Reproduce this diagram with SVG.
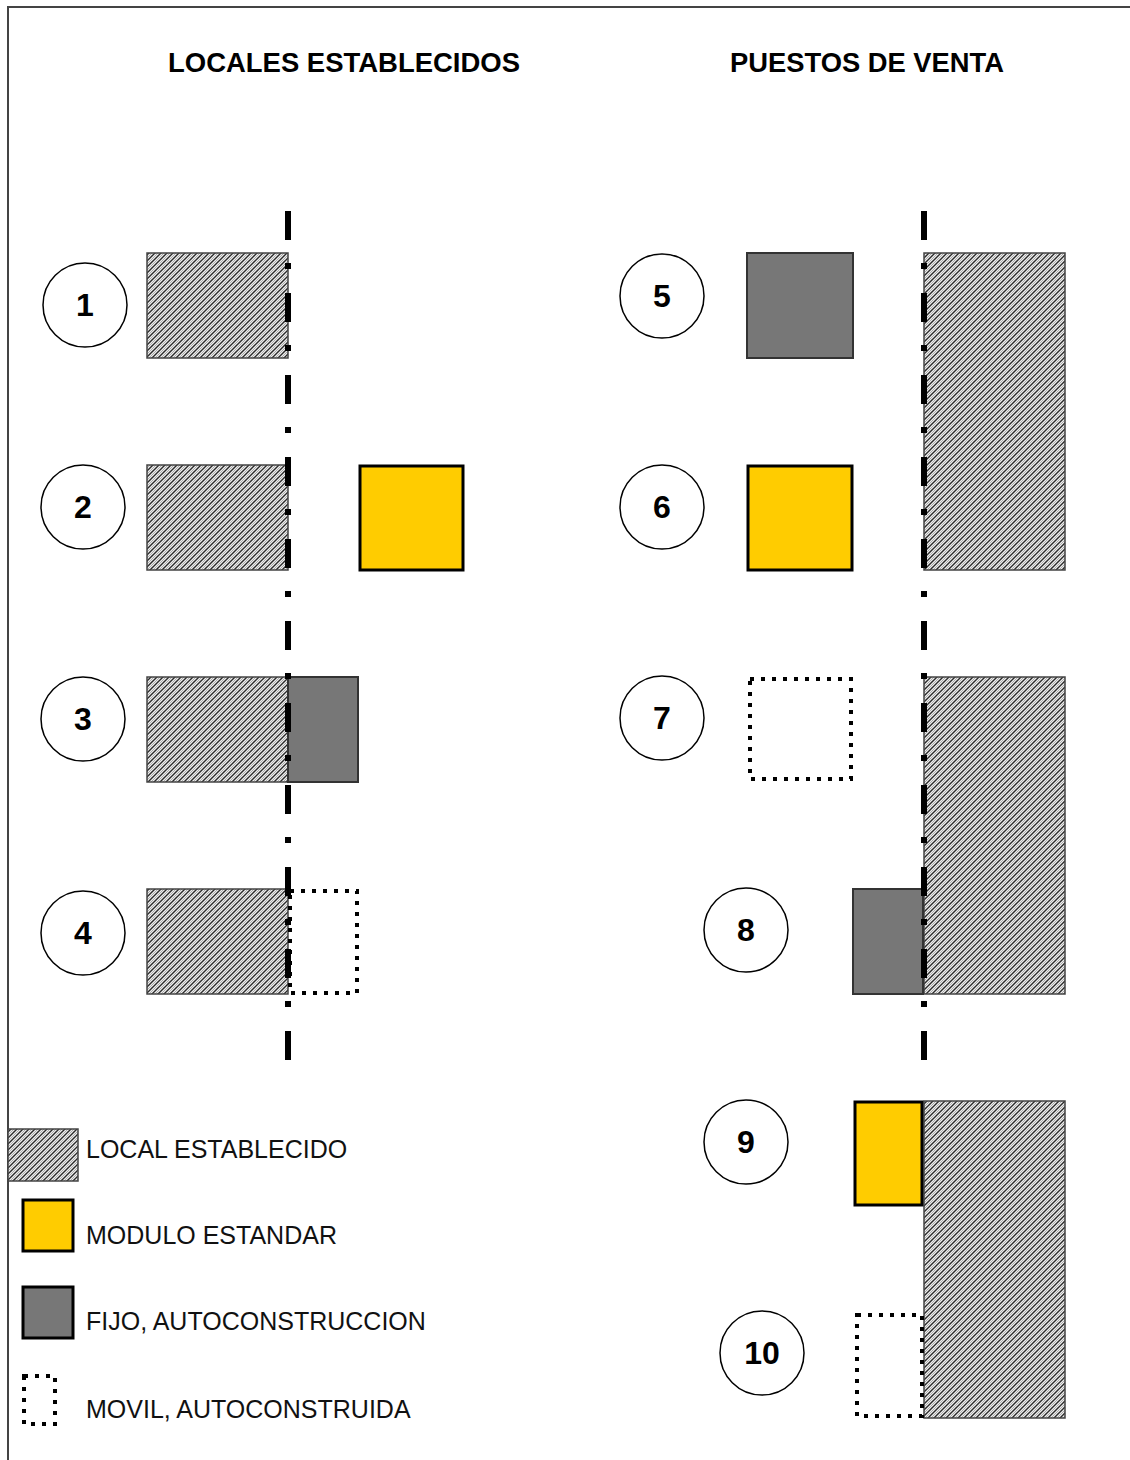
<svg xmlns="http://www.w3.org/2000/svg" width="1130" height="1460" viewBox="0 0 1130 1460">
<style>
.title{font-family:"Liberation Sans",Arial,sans-serif;font-weight:bold;font-size:27px;fill:#000}
.num{font-family:"Liberation Sans",Arial,sans-serif;font-weight:bold;font-size:32px;fill:#000;text-anchor:middle}
.leg{font-family:"Liberation Sans",Arial,sans-serif;font-size:25px;fill:#111}
.circ{fill:#fff;stroke:#000;stroke-width:1.5}
.hatch{fill:url(#hp);stroke:#444;stroke-width:1.5}
.yel{fill:#FFCC00;stroke:#000;stroke-width:3}
.gry{fill:#777;stroke:#333;stroke-width:2}
.dot{fill:none;stroke:#000;stroke-width:4;stroke-dasharray:4 7}
.axis{stroke:#000;stroke-width:6;stroke-dasharray:29 23 6 24;fill:none}
</style>
<defs>
<pattern id="hp" width="6" height="6" patternUnits="userSpaceOnUse">
<rect width="6" height="6" fill="#eeeeee"/>
<path d="M-1,7 L7,-1 M-1,1 L1,-1 M5,7 L7,5" stroke="#2a2a2a" stroke-width="1.4"/>
<path d="M-1,4 L4,-1 M2,7 L7,2" stroke="#999" stroke-width="0.8"/>
</pattern>
</defs>
<rect width="1130" height="1460" fill="#fff"/>
<path d="M8,1460 V7 H1130" fill="none" stroke="#444" stroke-width="2"/>
<text class="title" x="168" y="72" textLength="352" lengthAdjust="spacingAndGlyphs">LOCALES ESTABLECIDOS</text>
<text class="title" x="730" y="72" textLength="274" lengthAdjust="spacingAndGlyphs">PUESTOS DE VENTA</text>

<g id="case1">
<rect class="hatch" x="147" y="253" width="141" height="105"/>
<circle class="circ" cx="85" cy="305" r="42"/><text class="num" x="85" y="316">1</text>
</g>
<g id="case2">
<rect class="hatch" x="147" y="465" width="141" height="105"/>
<rect class="yel" x="360" y="466" width="103" height="104"/>
<circle class="circ" cx="83" cy="507" r="42"/><text class="num" x="83" y="518">2</text>
</g>
<g id="case3">
<rect class="hatch" x="147" y="677" width="141" height="105"/>
<rect class="gry" x="288" y="677" width="70" height="105"/>
<circle class="circ" cx="83" cy="719" r="42"/><text class="num" x="83" y="730">3</text>
</g>
<g id="case4">
<rect class="hatch" x="147" y="889" width="141" height="105"/>
<rect class="dot" x="290" y="891" width="67" height="102"/>
<circle class="circ" cx="83" cy="933" r="42"/><text class="num" x="83" y="944">4</text>
</g>

<g id="building-top">
<rect class="hatch" x="924" y="253" width="141" height="317"/>
</g>
<g id="building-mid">
<rect class="hatch" x="924" y="677" width="141" height="317"/>
</g>
<g id="building-bottom">
<rect class="hatch" x="924" y="1101" width="141" height="317"/>
</g>
<g id="case5">
<rect class="gry" x="747" y="253" width="106" height="105"/>
<circle class="circ" cx="662" cy="296" r="42"/><text class="num" x="662" y="307">5</text>
</g>
<g id="case6">
<rect class="yel" x="748" y="466" width="104" height="104"/>
<circle class="circ" cx="662" cy="507" r="42"/><text class="num" x="662" y="518">6</text>
</g>
<g id="case7">
<rect class="dot" x="750" y="679" width="101" height="100"/>
<circle class="circ" cx="662" cy="718" r="42"/><text class="num" x="662" y="729">7</text>
</g>
<g id="case8">
<rect class="gry" x="853" y="889" width="70" height="105"/>
<circle class="circ" cx="746" cy="930" r="42"/><text class="num" x="746" y="941">8</text>
</g>
<g id="case9">
<rect class="yel" x="855" y="1102" width="67" height="103"/>
<circle class="circ" cx="746" cy="1142" r="42"/><text class="num" x="746" y="1153">9</text>
</g>
<g id="case10">
<rect class="dot" x="857" y="1315" width="65" height="101"/>
<circle class="circ" cx="762" cy="1353" r="42"/><text class="num" x="762" y="1364">10</text>
</g>

<g id="connectors">
<line class="axis" x1="288" y1="211" x2="288" y2="1060"/>
<line class="axis" x1="924" y1="211" x2="924" y2="1060"/>
</g>

<g id="legend">
<rect class="hatch" x="8" y="1129" width="70" height="52"/>
<text class="leg" x="86" y="1158">LOCAL ESTABLECIDO</text>
<rect class="yel" x="23" y="1200" width="50" height="51"/>
<text class="leg" x="86" y="1244">MODULO ESTANDAR</text>
<rect x="23" y="1287" width="50" height="51" fill="#777" stroke="#000" stroke-width="3"/>
<text class="leg" x="86" y="1330">FIJO, AUTOCONSTRUCCION</text>
<rect class="dot" x="24" y="1376" width="31" height="48"/>
<text class="leg" x="86" y="1418">MOVIL, AUTOCONSTRUIDA</text>
</g>
</svg>
